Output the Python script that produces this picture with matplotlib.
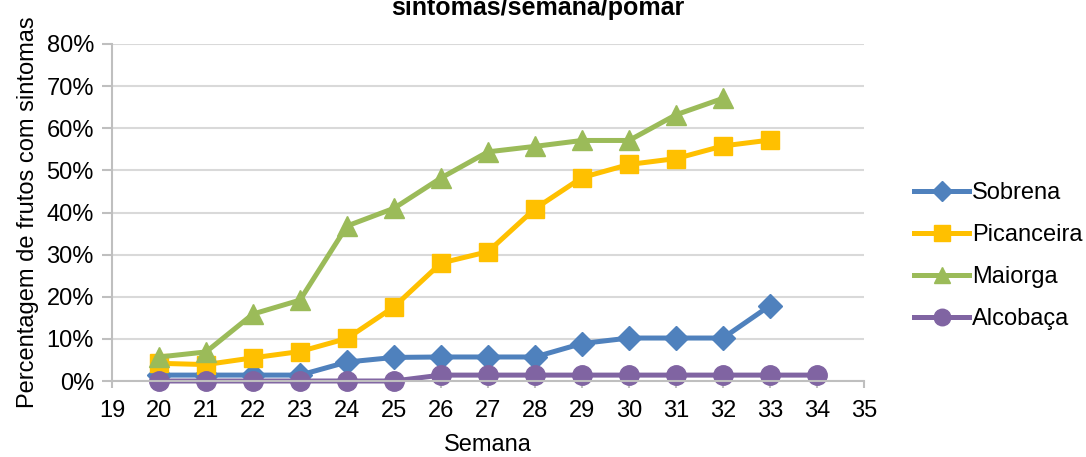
import matplotlib
matplotlib.use("Agg")
import matplotlib.pyplot as plt
from matplotlib.ticker import FuncFormatter, MultipleLocator

plt.rcParams['font.family'] = ['Liberation Sans', 'DejaVu Sans']

# percentagem de frutos com sintomas por semana
sobrena_sem = list(range(20, 34))
sobrena = [1.4, 1.4, 1.4, 1.4, 4.5, 5.6, 5.7, 5.7, 5.7, 8.9, 10.2, 10.2, 10.2, 17.9]
picanceira_sem = list(range(20, 34))
picanceira = [4.2, 3.9, 5.5, 7.0, 10.1, 17.6, 28.0, 30.7, 40.9, 48.3, 51.4, 52.8, 55.8, 57.2]
maiorga_sem = list(range(20, 33))
maiorga = [5.7, 6.9, 15.9, 19.2, 36.8, 41.0, 48.2, 54.4, 55.7, 57.1, 57.1, 63.2, 67.1]
alcobaca_sem = list(range(20, 35))
alcobaca = [0, 0, 0, 0, 0, 0, 1.4, 1.4, 1.4, 1.4, 1.4, 1.4, 1.4, 1.4, 1.4]

W, H = 1086, 457
fig = plt.figure(figsize=(W/100, H/100), dpi=100)
ax = fig.add_axes([112/W, 1-381/H, (864-112)/W, (381-44)/H])

fs = 17
lw = 3.6
ax.plot(sobrena_sem, sobrena, color='#4F81BD', lw=lw, marker='D', ms=12, label='Sobrena', clip_on=False)
ax.plot(picanceira_sem, picanceira, color='#FFC000', lw=lw, marker='s', ms=13, label='Picanceira', clip_on=False)
ax.plot(maiorga_sem, maiorga, color='#9BBB59', lw=lw, marker='^', ms=14, label='Maiorga', clip_on=False)
ax.plot(alcobaca_sem, alcobaca, color='#8064A2', lw=lw, marker='o', ms=14, label='Alcobaça', clip_on=False)

ax.set_xlim(19, 35)
ax.set_ylim(0, 80)
ax.xaxis.set_major_locator(MultipleLocator(1))
ax.yaxis.set_major_locator(MultipleLocator(10))
ax.yaxis.set_major_formatter(FuncFormatter(lambda v, p: '%d%%' % v))
ax.grid(axis='y', color='#d9d9d9', lw=1.5)
ax.set_axisbelow(True)
for s in ['top', 'right']:
    ax.spines[s].set_visible(False)
for s in ['left', 'bottom']:
    ax.spines[s].set_color('#bfbfbf')
    ax.spines[s].set_linewidth(1.5)
ax.tick_params(axis='x', length=5, width=1.5, color='#bfbfbf', pad=9, labelsize=fs)
ax.tick_params(axis='y', length=7, width=1.5, color='#bfbfbf', pad=6, labelsize=fs)

ax.set_xlabel('Semana', fontsize=fs, labelpad=8)
ax.set_ylabel('Percentagem de frutos com sintomas', fontsize=fs, labelpad=5)

fig.text(538/W, 1-15/H, 'sintomas/semana/pomar', ha='center', va='baseline',
         fontsize=18, fontweight='bold')

ax.legend(loc='center left', bbox_to_anchor=(905/W, 1-256/H), bbox_transform=fig.transFigure,
          frameon=False, fontsize=fs, handlelength=2.3, handletextpad=0.15,
          labelspacing=0.85, borderaxespad=0, markerscale=0.85)

fig.savefig('out.png', dpi=100)
